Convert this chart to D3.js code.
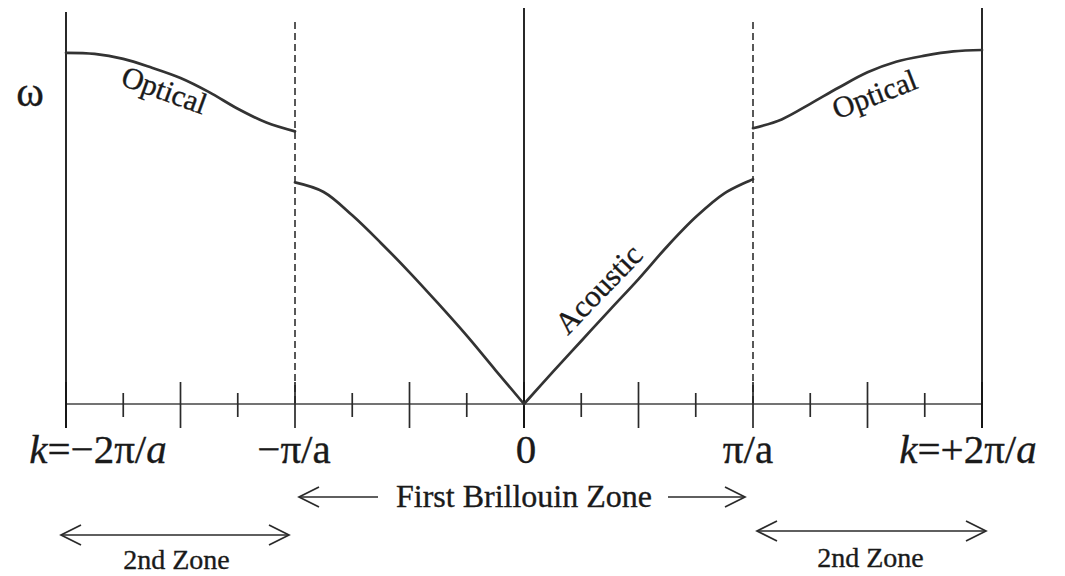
<!DOCTYPE html>
<html>
<head>
<meta charset="utf-8">
<script src="https://cdn.jsdelivr.net/npm/d3@7/dist/d3.min.js"></script>
<style>
  html, body { margin: 0; padding: 0; background: #fff; }
  text { font-family: "Liberation Serif", "Times New Roman", serif; fill: #1a1a1a; stroke: #1a1a1a; stroke-width: 0.35; }
</style>
</head>
<body>
<div id="chart"></div>
<script>
// k in units of pi/a, omega in arbitrary units (0..100)
var opticalLeftK = [-2, -1.875, -1.75, -1.625, -1.5, -1.375, -1.25, -1.125, -1];
var opticalLeftW = [99.2, 98.9, 97.5, 95.0, 92.1, 88.1, 83.4, 79.5, 77.0];

var acousticK = [-1, -0.875, -0.75, -0.625, -0.5, -0.375, -0.25, -0.125, 0,
                 0.125, 0.25, 0.375, 0.5, 0.625, 0.75, 0.875, 1];
var acousticW = [62.6, 59.9, 53.3, 45.5, 37.2, 28.4, 19.3, 9.6, 0,
                 9.0, 17.8, 26.6, 35.3, 44.5, 52.8, 59.5, 63.5];

var opticalRightK = [1, 1.125, 1.25, 1.375, 1.5, 1.625, 1.75, 1.875, 2];
var opticalRightW = [77.9, 80.4, 84.8, 89.4, 93.7, 96.7, 98.4, 99.6, 100];

// tick positions along k
var tickK = [-2, -1.75, -1.5, -1.25, -1, -0.75, -0.5, -0.25, 0,
             0.25, 0.5, 0.75, 1, 1.25, 1.5, 1.75, 2];
// labelled ticks
var labelK = [-2, -1, 0, 1, 2];
var labelText = [
  [["k", true], ["=\u22122\u03c0/", false], ["a", true]],
  [["\u2212\u03c0/a", false]],
  [["0", false]],
  [["\u03c0/a", false]],
  [["k", true], ["=+2\u03c0/", false], ["a", true]]
];

var W = 1065, H = 576;
var svg = d3.select("#chart").append("svg").attr("width", W).attr("height", H);
svg.append("rect").attr("width", W).attr("height", H).attr("fill", "#fff");

var x = d3.scaleLinear().domain([-2, 2]).range([66, 982]);
var y = d3.scaleLinear().domain([0, 100]).range([404, 50]);

var ink = "#2a2a2a";

// 横轴
svg.append("line").attr("x1", x(-2)).attr("x2", x(2)).attr("y1", y(0)).attr("y2", y(0))
   .attr("stroke", "#444").attr("stroke-width", 1.6);

// 刻度
svg.selectAll(".tick").data(tickK).enter().append("line")
   .attr("x1", function (d) { return x(d); })
   .attr("x2", function (d) { return x(d); })
   .attr("y1", function (d) { return y(0) - (d % 0.5 === 0 ? 22 : 11); })
   .attr("y2", function (d) { return y(0) + (d % 0.5 === 0 ? 24 : 13); })
   .attr("stroke", ink).attr("stroke-width", 1.7);

// 竖线 (k = -2, 0, 2)
[[-2, 12], [0, 8], [2, 8]].forEach(function (v) {
  svg.append("line").attr("x1", x(v[0])).attr("x2", x(v[0]))
     .attr("y1", v[1]).attr("y2", y(0) + 24)
     .attr("stroke", "#111").attr("stroke-width", 1.8);
});
// 虚线 (zone boundary)
[-1, 1].forEach(function (k) {
  svg.append("line").attr("x1", x(k)).attr("x2", x(k))
     .attr("y1", 22).attr("y2", y(0))
     .attr("stroke", "#222").attr("stroke-width", 1.5)
     .attr("stroke-dasharray", "7,4");
});

// curves
var line = d3.line()
  .x(function (d) { return x(d[0]); })
  .y(function (d) { return y(d[1]); })
  .curve(d3.curveCatmullRom.alpha(0.5));

function pairs(ks, ws) { return ks.map(function (k, i) { return [k, ws[i]]; }); }
var acoustic = pairs(acousticK, acousticW);
var branches = [
  pairs(opticalLeftK, opticalLeftW),
  acoustic.filter(function (d) { return d[0] <= 0; }),
  acoustic.filter(function (d) { return d[0] >= 0; }),
  pairs(opticalRightK, opticalRightW)
];
branches.forEach(function (b) {
  svg.append("path").attr("d", line(b)).attr("fill", "none")
     .attr("stroke", "#333").attr("stroke-width", 2.7)
     .attr("stroke-linejoin", "round").attr("stroke-linecap", "round");
});

// curve labels
function curveLabel(txt, k, w, ang, size) {
  svg.append("text")
     .attr("transform", "translate(" + x(k) + "," + y(w) + ") rotate(" + ang + ")")
     .attr("text-anchor", "middle").attr("dominant-baseline", "central")
     .attr("font-size", size).text(txt);
}
curveLabel("Optical", -1.57, 88.8, 20, 30);
curveLabel("Optical", 1.53, 87.6, -21, 30);
curveLabel("Acoustic", 0.325, 32.5, -46, 31);

// omega label
svg.append("text").attr("x", 30).attr("y", 106).attr("text-anchor", "middle")
   .attr("font-size", 42).text("\u03c9");

// tick labels
var labelDx = [32, -1, 2, -5, -14];
labelK.forEach(function (k, i) {
  var t = svg.append("text").attr("x", x(k) + labelDx[i]).attr("y", 463)
     .attr("text-anchor", "middle").attr("font-size", 41);
  labelText[i].forEach(function (p) {
    t.append("tspan").attr("font-style", p[1] ? "italic" : "normal").text(p[0]);
  });
});

// arrows
function arrowHead(px, py, dir) {
  // dir = -1 points left, +1 points right
  return "M" + (px - dir * 20) + "," + (py - 10) + "L" + px + "," + py + "L" + (px - dir * 20) + "," + (py + 10);
}
function hArrow(x1, x2, py, left, right) {
  svg.append("line").attr("x1", x1).attr("x2", x2).attr("y1", py).attr("y2", py)
     .attr("stroke", ink).attr("stroke-width", 1.7);
  if (left) svg.append("path").attr("d", arrowHead(x1, py, -1)).attr("fill", "none")
     .attr("stroke", ink).attr("stroke-width", 1.7);
  if (right) svg.append("path").attr("d", arrowHead(x2, py, 1)).attr("fill", "none")
     .attr("stroke", ink).attr("stroke-width", 1.7);
}

hArrow(x(-1) + 4, 378, 497, true, false);
hArrow(668, x(1) - 8, 497, false, true);
svg.append("text").attr("x", x(0)).attr("y", 507).attr("text-anchor", "middle")
   .attr("font-size", 32).text("First Brillouin Zone");

hArrow(x(-2) - 5, x(-1) - 6, 535, true, true);
svg.append("text").attr("x", (x(-2) + x(-1)) / 2 - 4).attr("y", 569).attr("text-anchor", "middle")
   .attr("font-size", 28).text("2nd Zone");

hArrow(x(1) + 4, x(2) + 4, 531, true, true);
svg.append("text").attr("x", (x(1) + x(2)) / 2 + 3).attr("y", 567).attr("text-anchor", "middle")
   .attr("font-size", 28).text("2nd Zone");
</script>
</body>
</html>
